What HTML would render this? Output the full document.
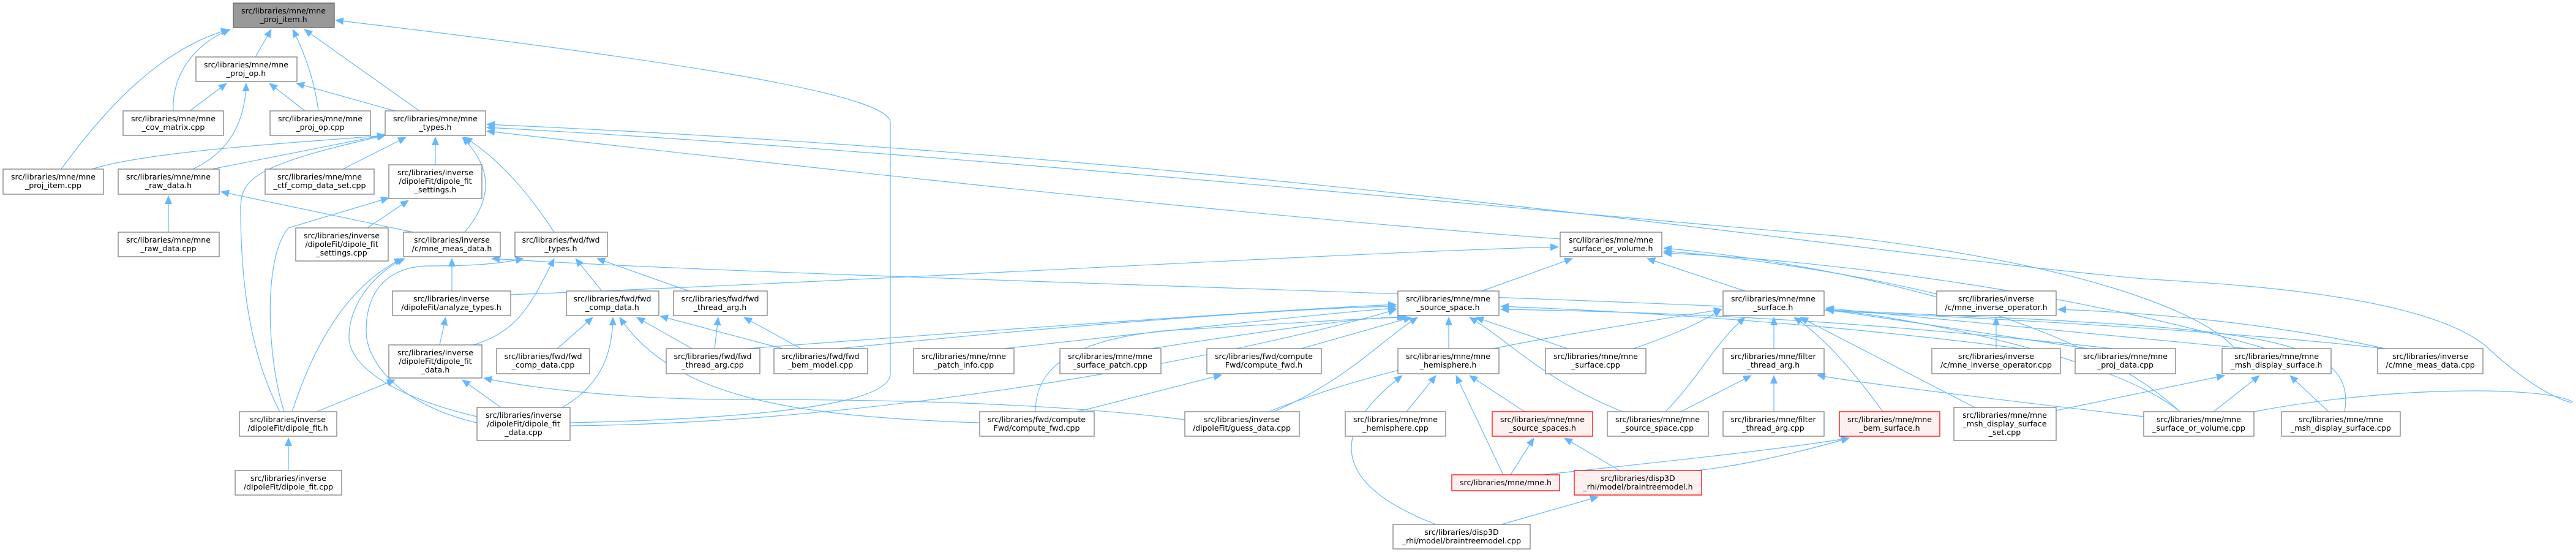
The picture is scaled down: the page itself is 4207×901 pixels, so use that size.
<!DOCTYPE html>
<html><head><meta charset="utf-8"><style>
html,body{margin:0;padding:0;background:#fff;}
svg{display:block;}
text{font-family:"DejaVu Sans","Liberation Sans",sans-serif;font-size:12.6px;fill:#000;text-anchor:middle;}
.n{fill:#fff;stroke:#808080;stroke-width:1.3;}
.g{fill:#999;stroke:#666;stroke-width:1.3;}
.r{fill:#fff0f0;stroke:#ff0000;stroke-width:1.3;}
.e{fill:none;stroke:#63b8ff;stroke-width:1.2;marker-end:url(#a);}
</style></head><body>
<svg width="4207" height="901" viewBox="0 0 4207 901" xmlns="http://www.w3.org/2000/svg">
<defs><marker id="a" markerUnits="userSpaceOnUse" markerWidth="14" markerHeight="12" refX="13" refY="6" orient="auto"><path d="M0,0 L14,6 L0,12 z" fill="#63b8ff"/></marker></defs>
<g>
<path class="e" d="M417,93 L443,48"/>
<path class="e" d="M283,181 C280,120 320,70 376,48"/>
<path class="e" d="M100,276 C170,180 260,80 374,48"/>
<path class="e" d="M520,181 C515,140 500,90 478,48"/>
<path class="e" d="M685,181 L497,48"/>
<path class="e" d="M931,690 C1150,685 1454,670 1454,610 L1454,200 C1454,160 1200,110 548,33"/>
<path class="e" d="M310,181 L370,136"/>
<path class="e" d="M498,181 L440,136"/>
<path class="e" d="M645,181 L484,136"/>
<path class="e" d="M315,276 C360,255 400,215 402,136"/>
<path class="e" d="M346,276 L629,220"/>
<path class="e" d="M150,276 C250,245 500,232 629,221"/>
<path class="e" d="M560,276 L663,224"/>
<path class="e" d="M711,269 L711,224"/>
<path class="e" d="M759,379 C800,330 810,280 755,224"/>
<path class="e" d="M905,379 C860,310 810,255 758,224"/>
<path class="e" d="M457,672 C420,600 393,500 393,340 C393,290 420,268 629,221"/>
<path class="e" d="M464,672 C435,580 430,420 471,372 L635,323"/>
<path class="e" d="M600,372 L667,327"/>
<path class="e" d="M275,379 L275,320"/>
<path class="e" d="M675,379 L361,313"/>
<path class="e" d="M477,672 C520,540 580,460 657,422"/>
<path class="e" d="M779,690 C650,660 598,590 598,540 C598,460 650,434 700,434 C780,434 820,430 855,422"/>
<path class="e" d="M779,680 C650,650 570,600 570,550 C570,490 620,440 661,422"/>
<path class="e" d="M738,475 L738,422"/>
<path class="e" d="M718,563 L728,518"/>
<path class="e" d="M834,481 C1500,455 2200,412 2545,403"/>
<path class="e" d="M773,563 C850,540 870,490 905,422"/>
<path class="e" d="M983,475 L940,422"/>
<path class="e" d="M1125,475 L975,422"/>
<path class="e" d="M517,672 L645,620"/>
<path class="e" d="M818,665 L755,620"/>
<path class="e" d="M1935,685 C1700,655 1400,652 1200,652 C1000,652 850,630 790,617"/>
<path class="e" d="M910,569 L968,518"/>
<path class="e" d="M1130,569 L1040,518"/>
<path class="e" d="M1278,569 L1078,516"/>
<path class="e" d="M918,665 C980,630 1000,580 1001,518"/>
<path class="e" d="M1600,690 C1300,680 1100,650 1012,518"/>
<path class="e" d="M1167,569 L1173,518"/>
<path class="e" d="M1308,569 L1215,518"/>
<path class="e" d="M3895,569 C3200,490 1500,465 803,422"/>
<path class="e" d="M1220,569 C1600,540 2100,505 2280,497"/>
<path class="e" d="M1370,569 C1700,535 2100,503 2280,500"/>
<path class="e" d="M1640,569 C1900,540 2200,508 2280,503"/>
<path class="e" d="M1880,569 C2100,535 2250,515 2295,518"/>
<path class="e" d="M2125,569 L2305,518"/>
<path class="e" d="M1691,672 C1691,600 1750,556 1900,540 C2100,528 2250,518 2300,518"/>
<path class="e" d="M2080,672 C2200,620 2250,560 2315,518"/>
<path class="e" d="M931,695 C1500,690 2100,560 2280,505"/>
<path class="e" d="M2366,569 L2366,518"/>
<path class="e" d="M2560,569 L2410,518"/>
<path class="e" d="M2650,672 C2520,620 2470,560 2400,518"/>
<path class="e" d="M3300,569 C3000,530 2700,510 2451,500"/>
<path class="e" d="M3450,569 C3100,530 2800,510 2451,505"/>
<path class="e" d="M2420,475 L2568,422"/>
<path class="e" d="M2850,475 L2690,422"/>
<path class="e" d="M3560,672 C3400,520 3000,430 2717,405"/>
<path class="e" d="M3700,569 C3400,480 3000,425 2717,413"/>
<path class="e" d="M1760,672 L1995,612"/>
<path class="e" d="M2072,672 C2300,580 2600,540 2812,505"/>
<path class="e" d="M2297,672 L2345,613"/>
<path class="e" d="M2455,775 L2378,613"/>
<path class="e" d="M2345,856 C2200,800 2150,720 2290,613"/>
<path class="e" d="M2490,672 L2400,613"/>
<path class="e" d="M2467,775 L2505,715"/>
<path class="e" d="M2645,768 L2555,715"/>
<path class="e" d="M2452,856 L2610,811"/>
<path class="e" d="M2520,775 C2700,755 2900,735 3020,715"/>
<path class="e" d="M2770,768 C2850,760 2950,735 3020,715"/>
<path class="e" d="M2897,569 L2897,518"/>
<path class="e" d="M3075,672 C3030,610 2980,550 2930,518"/>
<path class="e" d="M3225,665 L2940,518"/>
<path class="e" d="M2668,569 C2750,540 2780,525 2811,505"/>
<path class="e" d="M2720,672 C2780,610 2800,560 2850,518"/>
<path class="e" d="M3670,569 L2982,503"/>
<path class="e" d="M3560,672 C3450,580 3100,515 2982,505"/>
<path class="e" d="M3410,569 L2982,505"/>
<path class="e" d="M3829,672 C3850,560 3700,540 3300,520 L2982,506"/>
<path class="e" d="M2897,672 L2897,613"/>
<path class="e" d="M2745,672 L2860,613"/>
<path class="e" d="M3501,680 C3200,645 3000,620 2968,612"/>
<path class="e" d="M3260,569 L3260,518"/>
<path class="e" d="M3895,569 C3700,525 3500,510 3361,505"/>
<path class="e" d="M3163,480 C3000,440 2800,415 2717,410"/>
<path class="e" d="M3615,672 L3690,613"/>
<path class="e" d="M3803,672 L3740,613"/>
<path class="e" d="M3358,670 L3633,613"/>
<path class="e" d="M3681,672 C3900,630 4150,630 4200,655 C4210,662 4150,650 4060,565 C3950,475 3600,462 3500,455 C3000,410 2100,260 795,203"/>
<path class="e" d="M3650,569 C3600,510 3400,430 3000,385 C2400,335 1500,245 795,208"/>
<path class="e" d="M2548,390 C2000,350 1200,260 795,214"/>
<path class="e" d="M471,768 L471,715"/>
</g>
<g>
<rect class="g" x="381" y="5" width="165" height="40"/><text x="463" y="22">src/libraries/mne/mne</text><text x="463" y="36">_proj_item.h</text>
<rect class="n" x="320" y="93" width="165" height="40"/><text x="402" y="110">src/libraries/mne/mne</text><text x="402" y="124">_proj_op.h</text>
<rect class="n" x="201" y="181" width="164" height="40"/><text x="283" y="198">src/libraries/mne/mne</text><text x="283" y="212">_cov_matrix.cpp</text>
<rect class="n" x="441" y="181" width="164" height="40"/><text x="523" y="198">src/libraries/mne/mne</text><text x="523" y="212">_proj_op.cpp</text>
<rect class="n" x="629" y="181" width="164" height="40"/><text x="711" y="198">src/libraries/mne/mne</text><text x="711" y="212">_types.h</text>
<rect class="n" x="5" y="276" width="164" height="41"/><text x="87" y="293">src/libraries/mne/mne</text><text x="87" y="307">_proj_item.cpp</text>
<rect class="n" x="193" y="276" width="165" height="41"/><text x="275" y="293">src/libraries/mne/mne</text><text x="275" y="307">_raw_data.h</text>
<rect class="n" x="433" y="276" width="178" height="41"/><text x="522" y="293">src/libraries/mne/mne</text><text x="522" y="307">_ctf_comp_data_set.cpp</text>
<rect class="n" x="635" y="269" width="152" height="55"/><text x="711" y="286">src/libraries/inverse</text><text x="711" y="300">/dipoleFit/dipole_fit</text><text x="711" y="314">_settings.h</text>
<rect class="n" x="193" y="379" width="165" height="40"/><text x="275" y="396">src/libraries/mne/mne</text><text x="275" y="410">_raw_data.cpp</text>
<rect class="n" x="483" y="372" width="151" height="54"/><text x="558" y="389">src/libraries/inverse</text><text x="558" y="403">/dipoleFit/dipole_fit</text><text x="558" y="417">_settings.cpp</text>
<rect class="n" x="659" y="379" width="158" height="40"/><text x="738" y="396">src/libraries/inverse</text><text x="738" y="410">/c/mne_meas_data.h</text>
<rect class="n" x="841" y="379" width="151" height="40"/><text x="916" y="396">src/libraries/fwd/fwd</text><text x="916" y="410">_types.h</text>
<rect class="n" x="2548" y="379" width="166" height="40"/><text x="2631" y="396">src/libraries/mne/mne</text><text x="2631" y="410">_surface_or_volume.h</text>
<rect class="n" x="641" y="475" width="193" height="40"/><text x="737" y="492">src/libraries/inverse</text><text x="737" y="506">/dipoleFit/analyze_types.h</text>
<rect class="n" x="925" y="475" width="151" height="40"/><text x="1000" y="492">src/libraries/fwd/fwd</text><text x="1000" y="506">_comp_data.h</text>
<rect class="n" x="1100" y="475" width="153" height="40"/><text x="1176" y="492">src/libraries/fwd/fwd</text><text x="1176" y="506">_thread_arg.h</text>
<rect class="n" x="2283" y="475" width="165" height="40"/><text x="2365" y="492">src/libraries/mne/mne</text><text x="2365" y="506">_source_space.h</text>
<rect class="n" x="2814" y="475" width="165" height="40"/><text x="2896" y="492">src/libraries/mne/mne</text><text x="2896" y="506">_surface.h</text>
<rect class="n" x="3163" y="475" width="195" height="40"/><text x="3260" y="492">src/libraries/inverse</text><text x="3260" y="506">/c/mne_inverse_operator.h</text>
<rect class="n" x="635" y="563" width="152" height="54"/><text x="711" y="580">src/libraries/inverse</text><text x="711" y="594">/dipoleFit/dipole_fit</text><text x="711" y="608">_data.h</text>
<rect class="n" x="811" y="569" width="152" height="41"/><text x="887" y="586">src/libraries/fwd/fwd</text><text x="887" y="600">_comp_data.cpp</text>
<rect class="n" x="1088" y="569" width="153" height="41"/><text x="1164" y="586">src/libraries/fwd/fwd</text><text x="1164" y="600">_thread_arg.cpp</text>
<rect class="n" x="1264" y="569" width="153" height="41"/><text x="1340" y="586">src/libraries/fwd/fwd</text><text x="1340" y="600">_bem_model.cpp</text>
<rect class="n" x="1492" y="569" width="164" height="41"/><text x="1574" y="586">src/libraries/mne/mne</text><text x="1574" y="600">_patch_info.cpp</text>
<rect class="n" x="1731" y="569" width="165" height="41"/><text x="1813" y="586">src/libraries/mne/mne</text><text x="1813" y="600">_surface_patch.cpp</text>
<rect class="n" x="1971" y="569" width="187" height="41"/><text x="2064" y="586">src/libraries/fwd/compute</text><text x="2064" y="600">Fwd/compute_fwd.h</text>
<rect class="n" x="2283" y="569" width="165" height="41"/><text x="2365" y="586">src/libraries/mne/mne</text><text x="2365" y="600">_hemisphere.h</text>
<rect class="n" x="2524" y="569" width="164" height="41"/><text x="2606" y="586">src/libraries/mne/mne</text><text x="2606" y="600">_surface.cpp</text>
<rect class="n" x="2814" y="569" width="165" height="41"/><text x="2896" y="586">src/libraries/mne/filter</text><text x="2896" y="600">_thread_arg.h</text>
<rect class="n" x="3155" y="569" width="210" height="41"/><text x="3260" y="586">src/libraries/inverse</text><text x="3260" y="600">/c/mne_inverse_operator.cpp</text>
<rect class="n" x="3389" y="569" width="164" height="41"/><text x="3471" y="586">src/libraries/mne/mne</text><text x="3471" y="600">_proj_data.cpp</text>
<rect class="n" x="3629" y="569" width="178" height="41"/><text x="3718" y="586">src/libraries/mne/mne</text><text x="3718" y="600">_msh_display_surface.h</text>
<rect class="n" x="3883" y="569" width="172" height="41"/><text x="3969" y="586">src/libraries/inverse</text><text x="3969" y="600">/c/mne_meas_data.cpp</text>
<rect class="n" x="391" y="672" width="159" height="40"/><text x="470" y="689">src/libraries/inverse</text><text x="470" y="703">/dipoleFit/dipole_fit.h</text>
<rect class="n" x="779" y="665" width="152" height="54"/><text x="855" y="682">src/libraries/inverse</text><text x="855" y="696">/dipoleFit/dipole_fit</text><text x="855" y="710">_data.cpp</text>
<rect class="n" x="1600" y="672" width="187" height="40"/><text x="1693" y="689">src/libraries/fwd/compute</text><text x="1693" y="703">Fwd/compute_fwd.cpp</text>
<rect class="n" x="1935" y="672" width="187" height="40"/><text x="2028" y="689">src/libraries/inverse</text><text x="2028" y="703">/dipoleFit/guess_data.cpp</text>
<rect class="n" x="2197" y="672" width="164" height="40"/><text x="2279" y="689">src/libraries/mne/mne</text><text x="2279" y="703">_hemisphere.cpp</text>
<rect class="r" x="2437" y="672" width="164" height="40"/><text x="2519" y="689">src/libraries/mne/mne</text><text x="2519" y="703">_source_spaces.h</text>
<rect class="n" x="2625" y="672" width="165" height="40"/><text x="2707" y="689">src/libraries/mne/mne</text><text x="2707" y="703">_source_space.cpp</text>
<rect class="n" x="2814" y="672" width="165" height="40"/><text x="2896" y="689">src/libraries/mne/filter</text><text x="2896" y="703">_thread_arg.cpp</text>
<rect class="r" x="3004" y="672" width="164" height="40"/><text x="3086" y="689">src/libraries/mne/mne</text><text x="3086" y="703">_bem_surface.h</text>
<rect class="n" x="3191" y="665" width="167" height="54"/><text x="3274" y="682">src/libraries/mne/mne</text><text x="3274" y="696">_msh_display_surface</text><text x="3274" y="710">_set.cpp</text>
<rect class="n" x="3501" y="672" width="180" height="40"/><text x="3591" y="689">src/libraries/mne/mne</text><text x="3591" y="703">_surface_or_volume.cpp</text>
<rect class="n" x="3726" y="672" width="194" height="40"/><text x="3823" y="689">src/libraries/mne/mne</text><text x="3823" y="703">_msh_display_surface.cpp</text>
<rect class="n" x="384" y="768" width="174" height="40"/><text x="471" y="785">src/libraries/inverse</text><text x="471" y="799">/dipoleFit/dipole_fit.cpp</text>
<rect class="r" x="2371" y="775" width="176" height="26"/><text x="2459" y="792">src/libraries/mne/mne.h</text>
<rect class="r" x="2571" y="768" width="208" height="40"/><text x="2675" y="785">src/libraries/disp3D</text><text x="2675" y="799">_rhi/model/braintreemodel.h</text>
<rect class="n" x="2275" y="856" width="224" height="40"/><text x="2387" y="873">src/libraries/disp3D</text><text x="2387" y="887">_rhi/model/braintreemodel.cpp</text>
</g>
</svg>
</body></html>
